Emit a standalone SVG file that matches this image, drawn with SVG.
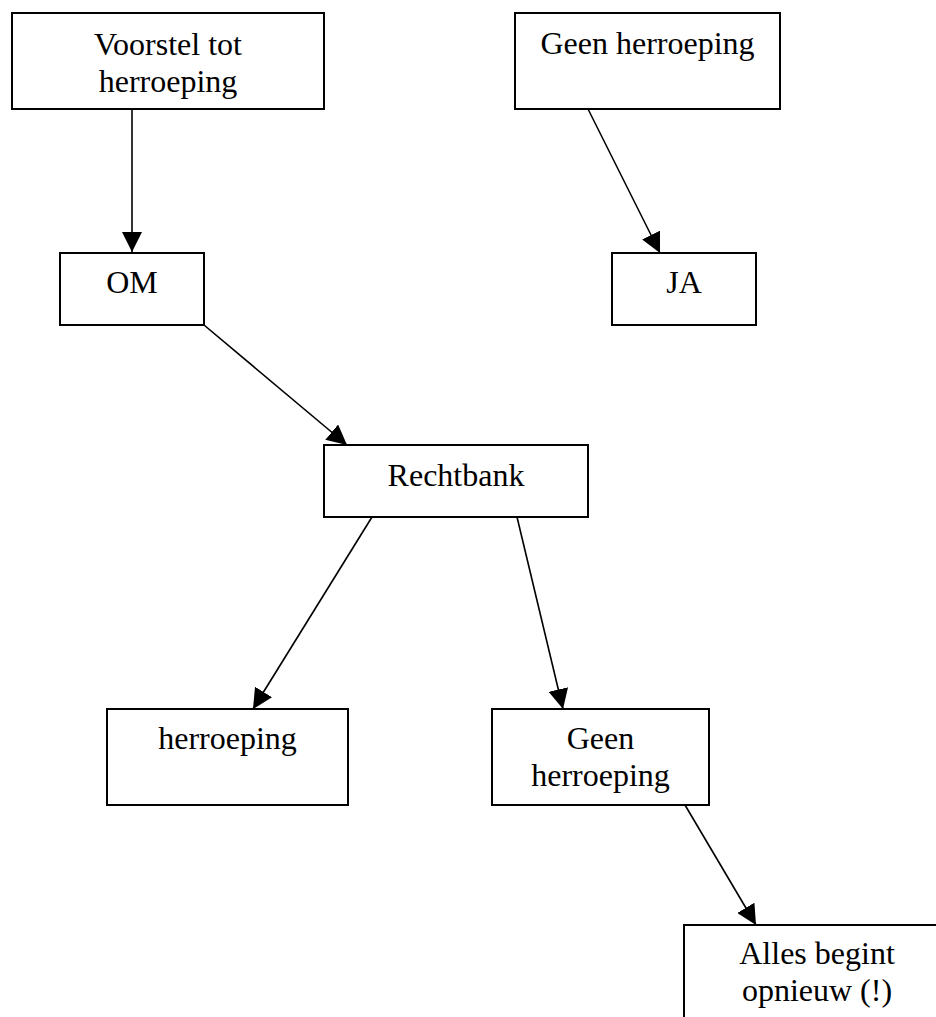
<svg xmlns="http://www.w3.org/2000/svg" width="936" height="1017" viewBox="0 0 936 1017">
  <style>
    .box { fill: #ffffff; stroke: #000000; stroke-width: 2; }
    .lbl { font-family: "Liberation Serif", "Times New Roman", serif; font-size: 32px; fill: #000000; text-anchor: middle; }
    .edge { fill: none; stroke: #000000; stroke-width: 1.6; marker-end: url(#arrow); }
  </style>
  <defs>
    <marker id="arrow" markerUnits="userSpaceOnUse" markerWidth="20" markerHeight="20" refX="20" refY="10" orient="auto">
      <path d="M0,0 L20,10 L0,20 Z" fill="#000000"/>
    </marker>
  </defs>
  <rect width="936" height="1017" fill="#ffffff"/>

  <g id="connectors">
    <path class="edge" d="M132,109 L132,252"/>
    <path class="edge" d="M588,109 L660,253"/>
    <path class="edge" d="M204,325 L347,445"/>
    <path class="edge" d="M372,517 L253,709"/>
    <path class="edge" d="M517,517 L563,709"/>
    <path class="edge" d="M685,805 L756,925"/>
  </g>

  <g id="voorstel">
    <rect class="box" x="12" y="13" width="312" height="96"/>
    <text class="lbl" x="168" y="55">Voorstel tot</text>
    <text class="lbl" x="168" y="92">herroeping</text>
  </g>

  <g id="geen-herroeping-top">
    <rect class="box" x="515" y="13" width="265" height="96"/>
    <text class="lbl" x="647.5" y="54">Geen herroeping</text>
  </g>

  <g id="om">
    <rect class="box" x="60" y="253" width="144" height="72"/>
    <text class="lbl" x="132" y="293">OM</text>
  </g>

  <g id="ja">
    <rect class="box" x="612" y="253" width="144" height="72"/>
    <text class="lbl" x="684" y="293">JA</text>
  </g>

  <g id="rechtbank">
    <rect class="box" x="324" y="445" width="264" height="72"/>
    <text class="lbl" x="456" y="486">Rechtbank</text>
  </g>

  <g id="herroeping">
    <rect class="box" x="107" y="709" width="241" height="96"/>
    <text class="lbl" x="227.5" y="749">herroeping</text>
  </g>

  <g id="geen-herroeping">
    <rect class="box" x="492" y="709" width="217" height="96"/>
    <text class="lbl" x="600.5" y="749">Geen</text>
    <text class="lbl" x="600.5" y="786">herroeping</text>
  </g>

  <g id="alles-begint">
    <rect class="box" x="684" y="925" width="280" height="120"/>
    <text class="lbl" x="817" y="964">Alles begint</text>
    <text class="lbl" x="817" y="1001">opnieuw (!)</text>
  </g>
</svg>
